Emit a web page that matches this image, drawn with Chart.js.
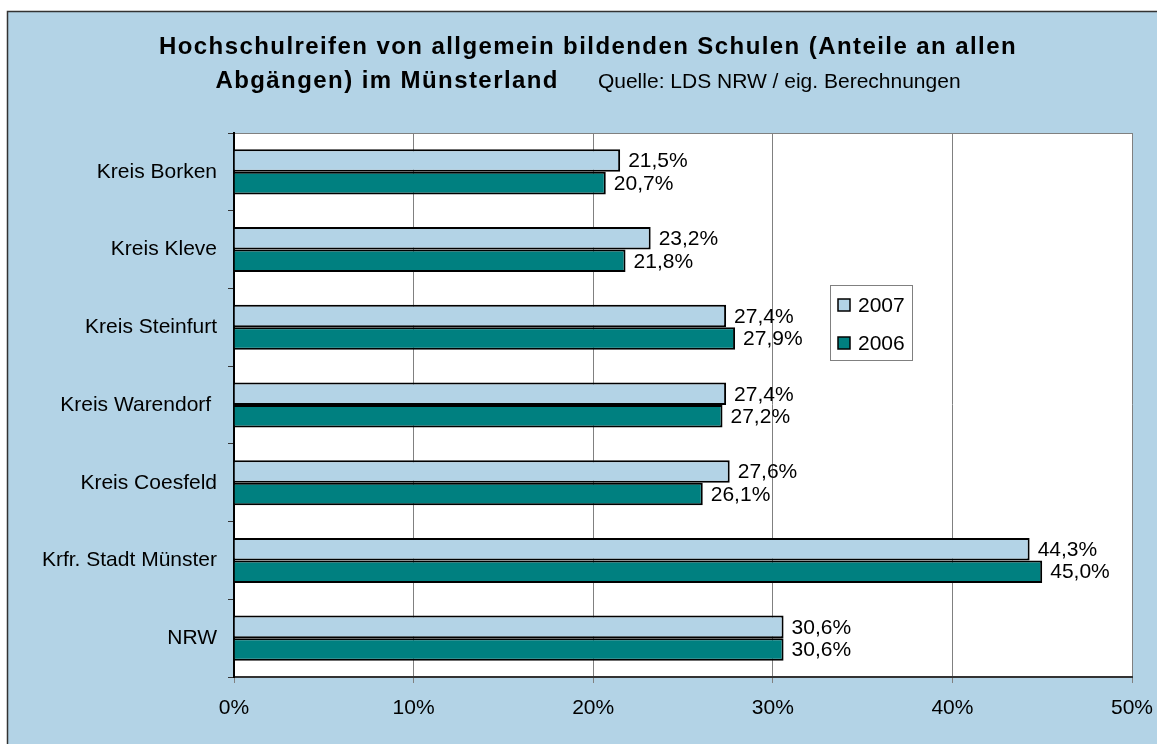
<!DOCTYPE html>
<html lang="de">
<head>
    <meta charset="UTF-8">
    <title>Hochschulreifen Münsterland</title>
    <script src="https://cdn.jsdelivr.net/npm/chart.js"></script>
    <style>
        html, body { margin: 0; padding: 0; background: #fff; }
        #wrap { position: relative; width: 1157px; height: 744px; }
    </style>
</head>
<body>
    <div id="wrap"><canvas id="chart" width="1157" height="744"></canvas></div>

    <script>
        // Daten
        const kategorien = ['Kreis Borken', 'Kreis Kleve', 'Kreis Steinfurt', 'Kreis Warendorf ',
            'Kreis Coesfeld', 'Krfr. Stadt Münster', 'NRW'];
        const werte2007 = [21.5, 23.2, 27.4, 27.4, 27.6, 44.3, 30.6];
        const werte2006 = [20.7, 21.8, 27.9, 27.2, 26.1, 45.0, 30.6];
        const jahre = ['2007', '2006'];
        const titelZeile1 = 'Hochschulreifen von allgemein bildenden Schulen (Anteile an allen';
        const titelZeile2 = 'Abgängen) im Münsterland';
        const quelle = 'Quelle: LDS NRW / eig. Berechnungen';

        const HG = '#B3D3E6';
        const FONT = '"Liberation Sans", Arial, Helvetica, sans-serif';

        function fmt(v) {
            return v.toFixed(1).replace('.', ',') + '%';
        }

        // Rahmen, Hintergrund und Titel
        const rahmenPlugin = {
            id: 'rahmen',
            beforeDraw(chart) {
                const ctx = chart.ctx;
                ctx.save();
                ctx.fillStyle = HG;
                ctx.fillRect(7, 11, chart.width - 7, chart.height - 11);
                ctx.strokeStyle = '#333';
                ctx.lineWidth = 1.5;
                ctx.beginPath();
                ctx.moveTo(7.5, chart.height);
                ctx.lineTo(7.5, 11.5);
                ctx.lineTo(chart.width, 11.5);
                ctx.stroke();
                // Zeichenfläche
                const a = chart.chartArea;
                ctx.fillStyle = '#fff';
                ctx.fillRect(a.left, a.top, a.right - a.left, a.bottom - a.top);
                ctx.strokeStyle = '#808080';
                ctx.lineWidth = 1;
                ctx.beginPath();
                ctx.moveTo(a.left, a.top + 0.5);
                ctx.lineTo(a.right, a.top + 0.5);
                ctx.stroke();

                // Titel (fett, etwas gesperrt wie im Original)
                ctx.fillStyle = '#000';
                ctx.textBaseline = 'alphabetic';
                ctx.textAlign = 'left';
                ctx.font = 'bold 24px ' + FONT;
                ctx.letterSpacing = '0px';
                const sp = (858 - ctx.measureText(titelZeile1).width) / titelZeile1.length;
                ctx.letterSpacing = sp + 'px';
                const w1 = ctx.measureText(titelZeile1).width;
                ctx.fillText(titelZeile1, 588 - w1 / 2, 54);
                const w2 = ctx.measureText(titelZeile2).width;
                ctx.letterSpacing = '0px';
                ctx.font = '21px ' + FONT;
                const w3 = ctx.measureText(quelle).width;
                const start = 588 - (w2 + 39 + w3) / 2;
                ctx.font = 'bold 24px ' + FONT;
                ctx.letterSpacing = sp + 'px';
                ctx.fillText(titelZeile2, start, 88);
                ctx.letterSpacing = '0px';
                ctx.font = '21px ' + FONT;
                ctx.fillText(quelle, start + w2 + 39, 88);
                ctx.restore();
            },
            afterDatasetsDraw(chart) {
                const ctx = chart.ctx;
                ctx.save();
                ctx.font = '21px ' + FONT;
                ctx.fillStyle = '#000';
                ctx.textAlign = 'left';
                ctx.textBaseline = 'middle';
                chart.data.datasets.forEach((ds, i) => {
                    chart.getDatasetMeta(i).data.forEach((bar, j) => {
                        ctx.fillText(fmt(ds.data[j]), bar.x + 8, bar.y + 1);
                    });
                });

                // Legende
                const lx = 830, ly = 285, lw = 82, lh = 75;
                ctx.fillStyle = '#fff';
                ctx.fillRect(lx, ly, lw, lh);
                ctx.strokeStyle = '#808080';
                ctx.lineWidth = 1;
                ctx.strokeRect(lx + 0.5, ly + 0.5, lw, lh);
                chart.data.datasets.forEach((ds, i) => {
                    const y = ly + 20 + i * 38;
                    ctx.fillStyle = ds.backgroundColor;
                    ctx.fillRect(lx + 8, y - 6, 12, 12);
                    ctx.strokeStyle = '#000';
                    ctx.lineWidth = 1.5;
                    ctx.strokeRect(lx + 8, y - 6, 12, 12);
                    ctx.fillStyle = '#000';
                    ctx.fillText(ds.label, lx + 28, y + 1);
                });
                ctx.restore();
            }
        };

        new Chart(document.getElementById('chart'), {
            type: 'bar',
            data: {
                labels: kategorien,
                datasets: [{
                    label: jahre[0],
                    data: werte2007,
                    backgroundColor: HG,
                    borderColor: '#000',
                    borderWidth: 2,
                    categoryPercentage: 0.58,
                    barPercentage: 1
                }, {
                    label: jahre[1],
                    data: werte2006,
                    backgroundColor: '#008080',
                    borderColor: '#000',
                    borderWidth: 2,
                    categoryPercentage: 0.58,
                    barPercentage: 1
                }]
            },
            options: {
                indexAxis: 'y',
                responsive: false,
                animation: false,
                layout: { padding: { top: 133, right: 25, left: 0, bottom: 0 } },
                plugins: {
                    legend: { display: false },
                    tooltip: { enabled: false }
                },
                scales: {
                    x: {
                        min: 0,
                        max: 50,
                        afterFit(scale) {
                            scale.height = 67;
                            scale.paddingLeft = 0;
                            scale.paddingRight = 0;
                        },
                        ticks: {
                            stepSize: 10,
                            color: '#000',
                            padding: 13,
                            font: { family: FONT, size: 21 },
                            callback: v => v + '%'
                        },
                        grid: { color: '#808080', lineWidth: 1, tickLength: 6 },
                        border: { color: '#333', width: 2 }
                    },
                    y: {
                        afterFit(scale) { scale.width = 234; },
                        ticks: {
                            color: '#000',
                            padding: 11,
                            font: { family: FONT, size: 21 }
                        },
                        grid: { offset: true, drawOnChartArea: false, color: '#333', tickLength: 6 },
                        border: { color: '#000', width: 2 }
                    }
                }
            },
            plugins: [rahmenPlugin]
        });
    </script>
</body>
</html>
